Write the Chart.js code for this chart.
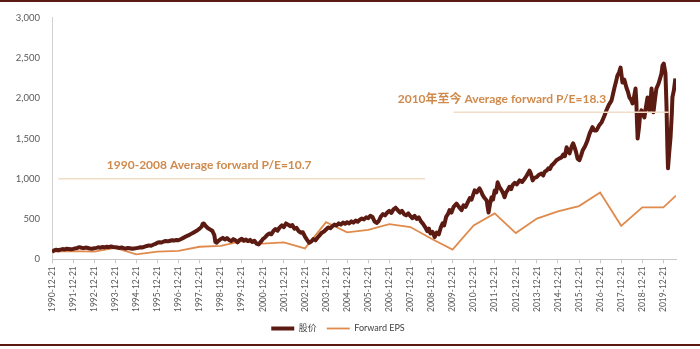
<!DOCTYPE html>
<html>
<head>
<meta charset="utf-8">
<script src="https://cdn.jsdelivr.net/npm/chart.js@4/dist/chart.umd.min.js"></script>
<style>
  html, body { margin: 0; padding: 0; background: #fff; }
  #wrap { position: relative; width: 700px; height: 349px; }
</style>
</head>
<body>
<div id="wrap"><canvas id="chart" width="700" height="349"></canvas></div>
<script>
// --- Data ---
// x = years since 1990-12-21 (one tick per year)
const yearLabels = [
  '1990-12-21', '1991-12-21', '1992-12-21', '1993-12-21', '1994-12-21', '1995-12-21',
  '1996-12-21', '1997-12-21', '1998-12-21', '1999-12-21', '2000-12-21', '2001-12-21',
  '2002-12-21', '2003-12-21', '2004-12-21', '2005-12-21', '2006-12-21', '2007-12-21',
  '2008-12-21', '2009-12-21', '2010-12-21', '2011-12-21', '2012-12-21', '2013-12-21',
  '2014-12-21', '2015-12-21', '2016-12-21', '2017-12-21', '2018-12-21', '2019-12-21'
];

const priceX = [
  0, 0.1, 0.2, 0.3, 0.4, 0.5, 0.6, 0.7, 0.8, 0.9,
  1.0, 1.1, 1.2, 1.3, 1.4, 1.5, 1.6, 1.7, 1.8, 1.9,
  2.0, 2.1, 2.2, 2.3, 2.4, 2.5, 2.6, 2.7, 2.8, 2.9,
  3.0, 3.1, 3.2, 3.3, 3.4, 3.5, 3.6, 3.7, 3.8, 3.9,
  4.0, 4.1, 4.2, 4.3, 4.4, 4.5, 4.6, 4.7, 4.8, 4.9,
  5.0, 5.1, 5.2, 5.3, 5.4, 5.5, 5.6, 5.7, 5.8, 5.9,
  6.0, 6.1, 6.2, 6.3, 6.4, 6.5, 6.6, 6.7, 6.8, 6.9,
  7.0, 7.1, 7.15, 7.2, 7.3, 7.4, 7.5, 7.6, 7.7, 7.75, 7.8, 7.9,
  8.0, 8.1, 8.2, 8.3, 8.4, 8.5, 8.6, 8.7, 8.8, 8.9,
  9.0, 9.1, 9.2, 9.3, 9.4, 9.5, 9.6, 9.7, 9.8, 9.9,
  10.0, 10.1, 10.2, 10.3, 10.4, 10.5, 10.6, 10.7, 10.8, 10.9,
  11.0, 11.1, 11.2, 11.3, 11.4, 11.5, 11.6, 11.7, 11.8, 11.9,
  12.0, 12.1, 12.2, 12.3, 12.4, 12.5, 12.6, 12.7, 12.8, 12.9,
  13.0, 13.1, 13.2, 13.3, 13.4, 13.5, 13.6, 13.7, 13.8, 13.9,
  14.0, 14.1, 14.2, 14.3, 14.4, 14.5, 14.6, 14.7, 14.8, 14.9,
  15.0, 15.1, 15.2, 15.3, 15.4, 15.5, 15.6, 15.7, 15.8, 15.9,
  16.0, 16.1, 16.2, 16.3, 16.4, 16.5, 16.6, 16.7, 16.8, 16.9,
  17.0, 17.1, 17.2, 17.3, 17.4, 17.5, 17.6, 17.7, 17.8, 17.88, 17.95,
  18.05, 18.15, 18.25, 18.35, 18.45, 18.53, 18.6, 18.7, 18.78, 18.86, 18.95,
  19.05, 19.19, 19.3, 19.43, 19.52, 19.62, 19.72, 19.82, 19.9,
  20.05, 20.15, 20.28, 20.36, 20.43, 20.52, 20.62, 20.67, 20.71, 20.78, 20.85, 20.92,
  21.0, 21.07, 21.14, 21.22, 21.33, 21.4, 21.47, 21.54, 21.61, 21.7, 21.78, 21.85, 21.95,
  22.05, 22.18, 22.3, 22.42, 22.52, 22.65, 22.72, 22.8, 22.88, 22.99,
  23.1, 23.22, 23.3, 23.38, 23.46, 23.55, 23.62, 23.7, 23.8, 23.93,
  24.05, 24.17, 24.25, 24.33, 24.41, 24.48, 24.55, 24.65, 24.72, 24.79, 24.86, 24.93,
  25.02, 25.1, 25.17, 25.28, 25.4, 25.5, 25.64, 25.72, 25.83, 25.95,
  26.07, 26.2, 26.3, 26.42, 26.54, 26.61, 26.68, 26.75, 26.82, 26.9, 26.97,
  27.06, 27.15, 27.25, 27.32, 27.39, 27.47, 27.54, 27.6, 27.68, 27.72, 27.75, 27.78, 27.85, 27.9, 27.96,
  28.03, 28.1, 28.18, 28.25, 28.3, 28.34, 28.4, 28.44, 28.49, 28.53, 28.6, 28.67, 28.77, 28.85, 28.91, 28.96,
  29.02, 29.1, 29.15, 29.19, 29.22, 29.27, 29.34, 29.4, 29.43, 29.5, 29.57
];
const priceValues = [
  92, 110, 118, 112, 120, 126, 122, 130, 127, 124,
  128, 135, 140, 150, 143, 138, 145, 140, 134, 130,
  136, 141, 148, 144, 152, 147, 155, 150, 158, 152,
  150, 145, 140, 146, 138, 133, 140, 137, 130, 134,
  138, 142, 150, 147, 156, 165, 172, 168, 180, 190,
  205, 212, 208, 220, 226, 222, 230, 236, 232, 240,
  236, 248, 262, 275, 290, 300, 315, 330, 345, 360,
  380, 405, 440, 445, 410, 385, 370, 355, 300, 215, 205, 230,
  250, 265, 245, 262, 240, 225, 250, 235, 210, 240,
  255, 230, 245, 225, 240, 215, 230, 195, 185, 215,
  250, 270, 300, 320, 310, 350, 375, 355, 395, 420,
  400, 445, 430, 410, 425, 380, 390, 350, 330, 335,
  280, 240, 205, 220, 250, 235, 270, 300, 330, 345,
  370, 395, 385, 410, 430, 420, 445, 430, 455, 440,
  460, 445, 470, 455, 480, 465, 490, 505, 495, 520,
  510, 540, 525, 470, 450, 475, 530, 560, 545, 580,
  600, 575, 620, 640, 610, 580, 600, 560, 545, 570,
  535, 510, 540, 500, 520, 470, 440, 400, 350, 380, 320,
  340, 275, 330, 310, 400, 445, 420, 530, 560, 610, 580,
  650, 690, 650, 610, 670, 650, 705, 760, 740,
  855, 830, 880, 840, 795, 760, 730, 640, 580, 690, 770, 740,
  855, 830, 955, 900, 855, 820, 770, 830, 855, 900, 870, 920, 950,
  930, 980, 960, 1000, 1040, 1100, 1060, 980, 1010, 1020,
  1050, 1065, 1040, 1090, 1100, 1130, 1120, 1165, 1190, 1230,
  1250, 1265, 1300, 1280, 1390, 1350, 1315, 1400, 1440, 1390, 1330, 1250,
  1230, 1290, 1350, 1400, 1475, 1560, 1640, 1600, 1600, 1660,
  1700, 1780, 1850, 1920, 1970, 2050, 2130, 2200, 2280, 2320, 2380,
  2195, 2230, 2130, 2080, 2010, 1980, 1935, 2000, 2120, 1950, 1700, 1500, 1650, 1800, 1850,
  1800, 1760, 1900, 2010, 1920, 1850, 1990, 2120, 1950, 1825, 1980, 2120, 2180, 2250, 2305, 2405,
  2430, 2305, 1900, 1400, 1130, 1300, 1510, 1800, 2010, 2100, 2245
];

const epsX = [0, 1, 2, 3, 4, 5, 6, 7, 8, 9, 10, 11, 12, 13, 14, 15, 16, 17, 18, 19,
  20, 21, 22, 23, 24, 25, 26, 27, 28, 29, 29.6];
const epsValues = [95, 100, 95, 140, 60, 95, 105, 155, 165, 225, 195, 210, 135, 460, 335, 365, 435, 400, 255, 120,
  420, 570, 325, 505, 595, 660, 830, 415, 645, 645, 790];

// average P/E reference lines and their captions
const avgLine1 = { x: [0.3, 17.7], y: 1000 };
const avgLine2 = { x: [19.05, 29.25], y: 1825 };
const captions = [
  { text: '1990-2008 Average forward P/E=10.7', x: 2.6, y: 1165 },
  { text: '2010年至今 Average forward P/E=18.3', x: 16.4, y: 1985 }
];

const seriesNames = ['股价', 'Forward EPS'];

// --- Chart ---
const FONT = 'Lato, "Noto Sans CJK SC", sans-serif';
const toPoints = (xs, ys) => xs.map((x, i) => ({ x: x, y: ys[i] }));

const framePlugin = {
  id: 'frame',
  afterDatasetsDraw(chart) {
    const { ctx, scales } = chart;
    ctx.save();
    ctx.fillStyle = '#d08a4c';
    ctx.font = 'bold 12px ' + FONT;
    ctx.textBaseline = 'middle';
    captions.forEach(c => {
      ctx.fillText(c.text, scales.x.getPixelForValue(c.x), scales.y.getPixelForValue(c.y));
    });
    ctx.restore();
  },
  afterDraw(chart) {
    const { ctx, width } = chart;
    ctx.save();
    ctx.fillStyle = '#5c1b12';
    ctx.fillRect(0, 0, width, 2);
    ctx.fillRect(0, 344, width, 2);
    ctx.restore();
  }
};

new Chart(document.getElementById('chart'), {
  type: 'line',
  data: {
    datasets: [
      {
        label: 'avg1',
        data: avgLine1.x.map(x => ({ x: x, y: avgLine1.y })),
        borderColor: '#f1dcc6',
        borderWidth: 1.5,
        pointRadius: 0
      },
      {
        label: 'avg2',
        data: avgLine2.x.map(x => ({ x: x, y: avgLine2.y })),
        borderColor: '#f1dcc6',
        borderWidth: 1.5,
        pointRadius: 0
      },
      {
        label: seriesNames[0],
        data: toPoints(priceX, priceValues),
        borderColor: '#5c1b12',
        backgroundColor: '#5c1b12',
        borderWidth: 4,
        borderJoinStyle: 'round',
        pointRadius: 0,
        tension: 0
      },
      {
        label: seriesNames[1],
        data: toPoints(epsX, epsValues),
        borderColor: '#e08a4c',
        backgroundColor: '#e08a4c',
        borderWidth: 1.8,
        pointRadius: 0,
        tension: 0
      }
    ]
  },
  options: {
    responsive: false,
    animation: false,
    layout: { padding: { top: 12, right: 24, left: 0, bottom: 6 } },
    plugins: {
      tooltip: { enabled: false },
      legend: {
        position: 'bottom',
        labels: {
          filter: item => seriesNames.includes(item.text),
          usePointStyle: true,
          pointStyle: 'line',
          pointStyleWidth: 23,
          boxHeight: 9,
          padding: 10,
          color: '#404040',
          font: { family: FONT, size: 9 }
        }
      }
    },
    scales: {
      x: {
        type: 'linear',
        min: 0,
        max: 29.6,
        afterBuildTicks: scale => {
          scale.ticks = yearLabels.map((l, i) => ({ value: i }));
        },
        afterFit: scale => { scale.height -= 1; },
        ticks: {
          stepSize: 1,
          autoSkip: false,
          minRotation: 90,
          maxRotation: 90,
          padding: 3,
          color: '#595959',
          font: { family: FONT, size: 8.5 },
          callback: v => yearLabels[v]
        },
        grid: { drawOnChartArea: false, drawTicks: true, tickLength: 4, color: '#c8c8c8' },
        border: { color: '#c8c8c8' }
      },
      y: {
        min: 0,
        max: 3000,
        afterFit: scale => { scale.width = 52; },
        ticks: {
          stepSize: 500,
          padding: 12,
          color: '#595959',
          font: { family: FONT, size: 9.5 },
          callback: v => v.toLocaleString('en-US')
        },
        grid: { display: false, drawTicks: false },
        border: { color: '#d0d0d0' }
      }
    }
  },
  plugins: [framePlugin]
});
</script>
</body>
</html>
